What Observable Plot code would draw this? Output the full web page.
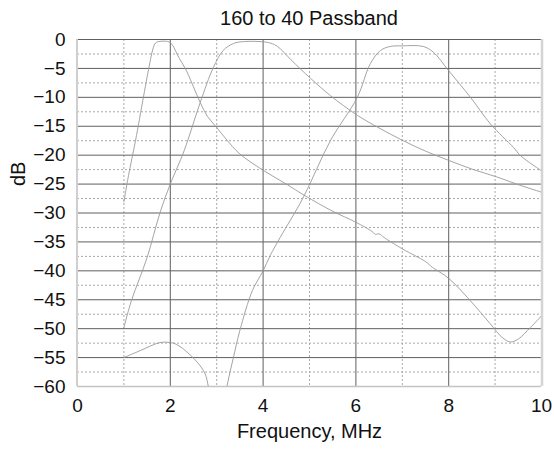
<!DOCTYPE html>
<html><head><meta charset="utf-8">
<script src="https://cdn.jsdelivr.net/npm/d3@7"></script>
<script src="https://cdn.jsdelivr.net/npm/@observablehq/plot@0.6"></script>
<style>
body{margin:0;background:#fff;font-family:"Liberation Sans",Arial,sans-serif;}
#title{width:554px;height:30px;box-sizing:border-box;padding:6px 13px 0 77px;line-height:24px;font-size:20px;text-align:center;color:#111;white-space:nowrap;}
</style></head><body>
<div id="title">160 to 40 Passband</div>
<div id="chart"></div>
<script>
// 160 m filter response
const freq160 = [1.0, 1.1, 1.25, 1.42, 1.5, 1.56, 1.62, 1.68, 1.75, 1.9, 1.97, 2.03, 2.08, 2.15, 2.25, 2.36, 2.5, 2.64, 2.8, 3.0, 3.2, 3.5, 4.0, 4.5, 4.9, 5.5, 6.0, 6.35, 6.42, 6.5, 6.6, 7.0, 7.5, 7.65, 8.0, 8.47, 8.9, 9.15, 9.33, 9.5, 9.76, 10.0];
const db160   = [-28.1, -23.5, -17.5, -10, -6.5, -4.0, -1.8, -0.6, -0.35, -0.3, -0.4, -0.8, -1.4, -2.6, -4.0, -5.6, -8.2, -10.8, -13.3, -15.2, -17.2, -19.8, -22.6, -25.0, -27.0, -29.7, -31.6, -33.2, -33.7, -33.6, -34.2, -36.2, -38.4, -39.4, -41.3, -45.2, -49.2, -51.5, -52.3, -51.8, -49.8, -47.8];
// 80 m filter response
const freq80 = [1.0, 1.16, 1.5, 1.78, 2.0, 2.3, 2.64, 2.93, 3.14, 3.36, 3.6, 4.0, 4.15, 4.25, 4.37, 4.6, 5.02, 5.45, 6.03, 6.5, 7.02, 7.5, 8.0, 8.5, 9.05, 9.5, 10.0];
const db80   = [-49.8, -45.2, -37.7, -29.9, -25.0, -19.2, -11.0, -4.8, -1.9, -0.7, -0.35, -0.4, -0.6, -0.9, -1.6, -3.5, -6.7, -9.7, -13.1, -15.3, -17.5, -19.3, -20.9, -22.4, -23.8, -25.1, -26.4];
// 40 m filter response
const freq40 = [1.0, 1.35, 1.78, 2.0, 2.1, 2.28, 2.58, 2.75, 2.82, 2.9, 3.0, 3.1, 3.22, 3.36, 3.5, 3.77, 4.0, 4.15, 4.37, 4.86, 5.45, 6.03, 6.31, 6.53, 6.74, 7.0, 7.45, 7.67, 8.0, 8.47, 8.9, 9.4, 9.55, 10.0];
const db40   = [-55.0, -53.8, -52.4, -52.4, -52.6, -53.5, -55.8, -57.8, -60, -63, -72, -66, -60, -55, -50.3, -43.4, -40.0, -37.4, -34.2, -27.4, -17.5, -10.0, -4.2, -1.9, -1.2, -1.1, -1.2, -2.2, -5.4, -10.0, -14.6, -18.7, -20.1, -22.7];

const xTicks = [0, 2, 4, 6, 8, 10];
const yTicks = [-60, -55, -50, -45, -40, -35, -30, -25, -20, -15, -10, -5, 0];
const xMajorGrid = [2, 4, 6, 8];
const xMinorGrid = [1, 3, 5, 7, 9];
const yMajorGrid = [-55, -50, -45, -40, -35, -30, -25, -20, -15, -10, -5, 0];
const yMinorGrid = [-57.5, -52.5, -47.5, -42.5, -37.5, -32.5, -27.5, -22.5, -17.5, -12.5, -7.5, -2.5];

const data = [
  ...freq160.map((f, i) => ({series: "160 m", f, db: db160[i]})),
  ...freq80.map((f, i) => ({series: "80 m", f, db: db80[i]})),
  ...freq40.map((f, i) => ({series: "40 m", f, db: db40[i]}))
];

const chart = Plot.plot({
  width: 554,
  height: 423,
  marginLeft: 77,
  marginRight: 13,
  marginTop: 9,
  marginBottom: 67,
  x: {domain: [0, 10]},
  y: {domain: [-60, 0]},
  style: {fontFamily: "'Liberation Sans', Arial, sans-serif", fontSize: "19px", background: "white", color: "#111"},
  marks: [
    Plot.ruleY(yMinorGrid, {stroke: "#a8a8a8", strokeDasharray: "2,2"}),
    Plot.ruleX(xMinorGrid, {stroke: "#a8a8a8", strokeDasharray: "2,2"}),
    Plot.ruleY(yMajorGrid, {stroke: "#606060"}),
    Plot.ruleX(xMajorGrid, {stroke: "#606060"}),
    Plot.ruleX([0], {stroke: "#cfcfcf", strokeWidth: 2, dx: -0.5}),
    Plot.ruleX([10], {stroke: "#d4d4d4", strokeWidth: 2.5, dx: 0.5}),
    Plot.ruleY([-60], {stroke: "#c4c4c4", strokeWidth: 1.5}),
    Plot.line(data, {x: "f", y: "db", z: "series", stroke: "#9a9a9a", strokeWidth: 0.9, curve: "catmull-rom", clip: true}),
    Plot.axisY({ticks: yTicks, tickSize: 0, tickPadding: 12, label: null, fontSize: 19}),
    Plot.axisX({ticks: xTicks, tickSize: 0, tickPadding: 12, label: null, fontSize: 19}),
    Plot.text(["dB"], {frameAnchor: "left", rotate: -90, dx: -59, dy: -27, fontSize: 20}),
    Plot.text(["Frequency, MHz"], {frameAnchor: "bottom", dy: 51, fontSize: 20})
  ]
});
document.getElementById("chart").append(chart);
</script></body></html>
